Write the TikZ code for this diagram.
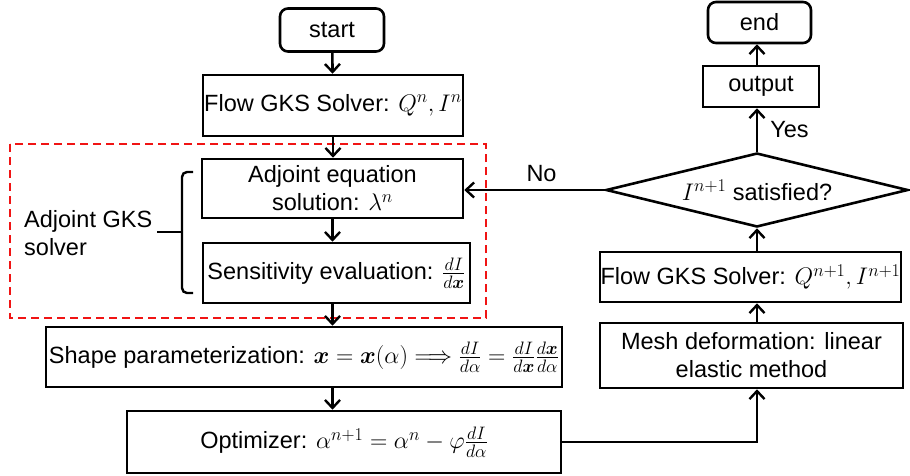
\RequirePackage{fix-cm}
\documentclass[tikz,border=0pt]{standalone}
\usepackage{amsmath,bm}
\usepackage[no-math]{fontspec}
\setmainfont{Liberation Sans}
\DeclareMathSizes{23.5}{24}{18}{14}
\usetikzlibrary{shapes.geometric,arrows.meta}
\definecolor{dashred}{RGB}{240,20,20}
\begin{document}
\begin{tikzpicture}[x=1pt,y=-1pt,
  every node/.style={font=\fontsize{23.5}{28}\selectfont},
  box/.style={draw,line width=2.6pt,inner sep=0pt,align=center},
  term/.style={box,rounded corners=8pt},
  flow/.style={line width=2.6pt,-{Straight Barb[length=8pt,width=15pt,line width=2.4pt]}},
  lbl/.style={inner sep=0pt}]
\useasboundingbox (0,0) rectangle (910,475);

% left column
\node[term,minimum width=104,minimum height=43] (start) at (332,30) {start};
\node[box,minimum width=260,minimum height=61] (flow1) at (333,105.5) {Flow GKS Solver: $Q^n,I^n$};
\node[box,minimum width=261,minimum height=59] (adj) at (332.5,188.5) {Adjoint equation\\solution: $\lambda^n$};
\node[box,minimum width=267,minimum height=60] (sens) at (336.5,273) {Sensitivity evaluation: $\frac{dI}{d\bm{x}}$};
\node[box,minimum width=516,minimum height=60] (shape) at (304,357) {Shape parameterization: $\bm{x}=\bm{x}(\alpha)\Longrightarrow\frac{dI}{d\alpha}=\frac{dI}{d\bm{x}}\frac{d\bm{x}}{d\alpha}$};
\node[box,minimum width=434,minimum height=62] (opt) at (344,442) {Optimizer: $\alpha^{n+1}=\alpha^n-\varphi\frac{dI}{d\alpha}$};

% adjoint solver group
\draw[dashred,line width=2.2pt,dash pattern=on 8pt off 5pt] (10,144) rectangle (486,318);
\draw[line width=2.4pt,rounded corners=5pt] (193,172) -- (182,172) -- (182,293) -- (193,293);
\draw[line width=2.4pt] (182,232) -- (157,232);
\node[lbl,anchor=west,align=left] (grp) at (24,233) {Adjoint GKS\\solver};

% right column
\node[box,minimum width=303,minimum height=65] (mesh) at (751.5,355.5) {Mesh deformation: linear\\elastic method};
\node[box,minimum width=301,minimum height=50] (flow2) at (750.5,277) {Flow GKS Solver: $Q^{n+1},I^{n+1}$};
\node[draw,diamond,line width=2.6pt,inner sep=0pt,aspect=4.08,minimum width=302,minimum height=74] (chk) at (757,190) {$I^{n+1}$ satisfied?};
\node[box,minimum width=116,minimum height=41] (out) at (761,86.5) {output};
\node[term,minimum width=103,minimum height=41] (end) at (759.5,22.5) {end};

\coordinate (turn) at (757,442);

% connectors
\draw[flow] (start) -- (flow1);
\draw[flow] (flow1.south) -- (flow1.south |- adj.north);
\draw[flow] (adj.south) -- (adj.south |- sens.north);
\draw[flow] (adj.south |- sens.south) -- (adj.south |- shape.north);
\draw[flow] (adj.south |- shape.south) -- (adj.south |- opt.north);
\draw[flow] (opt.east) -- (turn) -- (turn |- mesh.south);
\draw[flow] (turn |- mesh.north) -- (turn |- flow2.south);
\draw[flow] (turn |- flow2.north) -- (chk.south);
\draw[flow] (chk.north) -- (turn |- out.south) node[lbl,pos=0.5,anchor=west,xshift=12pt] (yes) {Yes};
\draw[flow] (turn |- out.north) -- (turn |- end.south);
\draw[flow] (chk.west) -- (adj.east |- chk.west) node[lbl,pos=0.45,anchor=south,yshift=7pt] (no) {No};
\end{tikzpicture}
\end{document}
